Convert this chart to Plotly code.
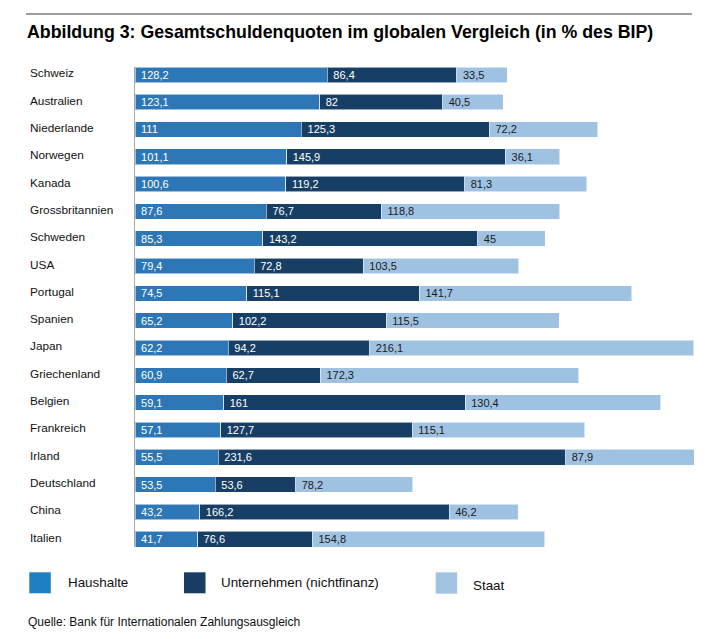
import plotly.graph_objects as go

# ---- data ----
countries = ["Schweiz", "Australien", "Niederlande", "Norwegen", "Kanada",
             "Grossbritannien", "Schweden", "USA", "Portugal", "Spanien",
             "Japan", "Griechenland", "Belgien", "Frankreich", "Irland",
             "Deutschland", "China", "Italien"]
haushalte = [128.2, 123.1, 111, 101.1, 100.6, 87.6, 85.3, 79.4, 74.5, 65.2,
             62.2, 60.9, 59.1, 57.1, 55.5, 53.5, 43.2, 41.7]
unternehmen = [86.4, 82, 125.3, 145.9, 119.2, 76.7, 143.2, 72.8, 115.1, 102.2,
               94.2, 62.7, 161, 127.7, 231.6, 53.6, 166.2, 76.6]
staat = [33.5, 40.5, 72.2, 36.1, 81.3, 118.8, 45, 103.5, 141.7, 115.5,
         216.1, 172.3, 130.4, 115.1, 87.9, 78.2, 46.2, 154.8]
series_names = ["Haushalte", "Unternehmen (nichtfinanz)", "Staat"]
title_text = "Abbildung 3: Gesamtschuldenquoten im globalen Vergleich (in % des BIP)"
source_text = "Quelle: Bank für Internationalen Zahlungsausgleich"

# ---- styling ----
W, H = 722, 639
ML, MR, MT, MB = 135, 28, 67, 92
PW, PH = W - ML - MR, H - MT - MB
FONT = "Liberation Sans"
bar_colors = ["#2d77b6", "#173f66", "#a0c2e2"]
legend_colors = ["#1f80c1", "#183c63", "#a2c3e3"]
text_colors = ["#ffffff", "#ffffff", "#1a1a1a"]


def fx(px):
    return (px - ML) / PW


def fy(py):
    return (H - MB - py) / PH


def fmt(v):
    return "\u00a0" + f"{v:g}".replace(".", ",")


fig = go.Figure()
for name, vals, col, tcol in zip(series_names, [haushalte, unternehmen, staat],
                                 bar_colors, text_colors):
    fig.add_trace(go.Bar(
        y=countries, x=vals, orientation="h", name=name,
        marker=dict(color=col, line=dict(color="rgba(255,255,255,0.55)", width=1)),
        text=[fmt(v) for v in vals], textposition="inside",
        insidetextanchor="start", textangle=0, constraintext="none",
        textfont=dict(family=FONT, size=11, color=tcol),
        showlegend=False, hoverinfo="x+y+name",
    ))

annotations = []
# country labels
for c in countries:
    annotations.append(dict(
        xref="paper", yref="y", x=fx(28.3), y=c, yshift=1.5,
        text=c, showarrow=False, xanchor="left", yanchor="middle",
        font=dict(family=FONT, size=11.8, color="#111111")))
# title
annotations.append(dict(
    xref="paper", yref="paper", x=fx(25), y=fy(31.7),
    text="<b>" + title_text + "</b>", showarrow=False,
    xanchor="left", yanchor="middle",
    font=dict(family=FONT, size=17.75, color="#000000")))
# source
annotations.append(dict(
    xref="paper", yref="paper", x=fx(25.7), y=fy(621.7),
    text=source_text, showarrow=False, xanchor="left", yanchor="middle",
    font=dict(family=FONT, size=12, color="#111111")))

shapes = []
# top rule
shapes.append(dict(type="line", xref="paper", yref="paper",
                   x0=fx(26), x1=fx(692), y0=fy(14), y1=fy(14),
                   line=dict(color="#7f7f7f", width=1.5)))

# legend (squares + labels)
leg_sq_x = [29.3, 184, 435.7]
leg_sq_y = [(572.3, 593.3), (572.3, 593.3), (572.3, 593.7)]
leg_tx_x = [65.7, 219, 470.7]
leg_tx_y = [582.7, 582.7, 585]
for i, name in enumerate(series_names):
    x0 = leg_sq_x[i]
    y0, y1 = leg_sq_y[i]
    shapes.append(dict(type="rect", xref="paper", yref="paper",
                       x0=fx(x0), x1=fx(x0 + 21.5), y0=fy(y1), y1=fy(y0),
                       fillcolor=legend_colors[i], line=dict(width=0)))
    annotations.append(dict(
        xref="paper", yref="paper", x=fx(leg_tx_x[i]), y=fy(leg_tx_y[i]),
        text=name, showarrow=False, xanchor="left", yanchor="middle",
        font=dict(family=FONT, size=13.4, color="#111111")))

fig.update_layout(
    width=W, height=H,
    margin=dict(l=ML, r=MR, t=MT, b=MB, pad=0),
    barmode="stack", bargap=0.43,
    paper_bgcolor="white", plot_bgcolor="white",
    font=dict(family=FONT),
    annotations=annotations, shapes=shapes,
    xaxis=dict(range=[0, 372.7], visible=False, fixedrange=True),
    yaxis=dict(range=[17.285, -0.285], showticklabels=False, ticks="",
               showgrid=False, zeroline=False, showline=True,
               linecolor="#a8a8a8", linewidth=1, fixedrange=True),
)

fig.write_html("out.html",
               config={"displayModeBar": False},
               post_script="document.body.style.margin='0';document.body.style.padding='0';")
